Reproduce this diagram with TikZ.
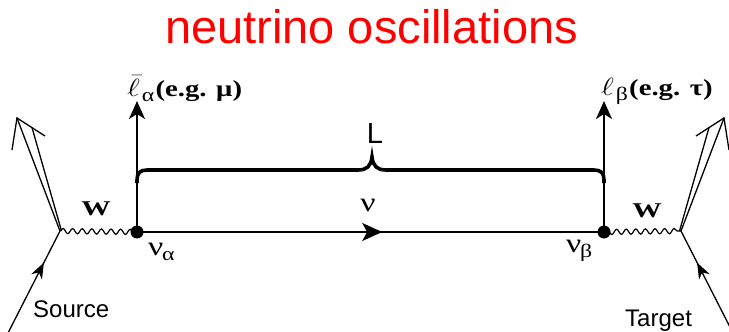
\documentclass[tikz,border=0pt]{standalone}
\usepackage{fontspec}
\usepackage{graphicx}
\setmainfont{Liberation Serif}
\setsansfont{Liberation Sans}
\usetikzlibrary{arrows.meta,decorations.pathmorphing,decorations.markings}
\newcommand{\fgstretch}[1]{\scalebox{1.25}[1]{#1}}
\newcommand{\subbig}[1]{\raisebox{-5pt}{\fontsize{19}{19}\selectfont #1}}
\begin{document}
\begin{tikzpicture}[x=1pt,y=-1pt,
  title/.style={font=\sffamily\fontsize{47}{47}\selectfont, text=red, inner sep=0pt},
  sanslab/.style={font=\sffamily\fontsize{24}{24}\selectfont, inner sep=0pt},
  serlab/.style={font=\fontsize{23}{23}\selectfont, inner sep=0pt},
  nulabel/.style={font=\fontsize{27}{27}\selectfont, inner sep=0pt},
  dot/.style={circle, fill=black, inner sep=0pt, minimum size=13pt},
  nuline/.style={line width=2pt},
  legline/.style={line width=1.3pt},
  boson/.style={line width=1.2pt, decorate, decoration={snake, amplitude=2.6pt, segment length=9.6pt}},
  bracestyle/.style={line width=3.6pt},
  upleg/.style={line width=2pt, -{Stealth[length=18pt, width=16pt, inset=5pt]}},
  midarrow/.style n args={3}{decoration={markings, mark=at position #1 with {\arrow{Stealth[length=#2, width=#3, inset=5pt]}}}, postaction=decorate}
]
\useasboundingbox (0,0) rectangle (729,332);
\clip (0,0) rectangle (729,332);

% title
\node[title, anchor=base] (title) at (371.5,43) {neutrino oscillations};

% vertices
\node[dot] (dA) at (137,232) {};
\node[dot] (dB) at (604,232) {};
\coordinate (vL) at (60,231);
\coordinate (vR) at (681,231);

% neutrino propagation
\draw[nuline, midarrow={0.525}{20pt}{18pt}] (dA.center) -- (dB.center);

% charged leptons up
\coordinate (lA) at (137,101);
\coordinate (lB) at (604,101);
\draw[upleg] (dA.center) -- (lA);
\draw[upleg] (dB.center) -- (lB);

% W bosons
\draw[boson] (vL) -- (dA.center);
\draw[boson] (dB.center) -- (vR);

% source side
\coordinate (srcIn) at (8,333);
\coordinate (oA) at (17,118);
\coordinate (oB) at (32,127.6);
\coordinate (wA) at (12,150);
\coordinate (wB) at (45,136);
\draw[legline, midarrow={0.69}{16pt}{12pt}] (srcIn) -- (vL);
\draw[legline] (vL) -- (oA);
\draw[legline] ([xshift=1.5pt]vL) -- (oB);
\draw[legline] (wA) -- (oA) -- (wB);

% target side (mirror)
\coordinate (tgtIn) at (733,333);
\coordinate (pA) at (724,118);
\coordinate (pB) at (709,127.6);
\coordinate (xA) at (729,150);
\coordinate (xB) at (696,136);
\draw[legline, midarrow={0.69}{16pt}{12pt}] (tgtIn) -- (vR);
\draw[legline] (vR) -- (pA);
\draw[legline] ([xshift=-1.5pt]vR) -- (pB);
\draw[legline] (xA) -- (pA) -- (xB);

% brace L
\draw[bracestyle] (137,183) -- (137,180) .. controls (137,173) and (140,170) .. (147,170)
  -- (358,170) .. controls (367,170) and (371,166) .. (372,157)
  .. controls (373,166) and (377,170) .. (386,170)
  -- (594,170) .. controls (601,170) and (604,173) .. (604,180) -- (604,183);
\node[sanslab, font=\sffamily\fontsize{29}{29}\selectfont, anchor=base] (Llab) at (375,143) {L};

% labels
\node[serlab, font=\fontsize{21}{21}\selectfont] (wLlab) at (96,208.5) {\scalebox{1.4}[1]{\bfseries W}};
\node[serlab, font=\fontsize{21}{21}\selectfont] (wRlab) at (647,211) {\scalebox{1.4}[1]{\bfseries W}};
\node[nulabel] (nulab) at (368,205) {\fgstretch{ν}};
\node[nulabel, anchor=base west] (nuA) at (148,255) {\fgstretch{ν\kern-1pt\subbig{α}}};
\node[nulabel, anchor=base west] (nuB) at (566,252) {\fgstretch{ν\kern-1pt\subbig{β}}};
\node[serlab, anchor=base west] (lepA) at (127,96) {\fgstretch{$\bar{\ell}$\kern1.5pt\subbig{α}\kern1pt\bfseries(e.g. μ)}};
\node[serlab, anchor=base west] (lepB) at (601,95) {\fgstretch{$\ell$\kern1.5pt\subbig{β}\kern1pt\bfseries(e.g. τ)}};
\node[sanslab, anchor=base west] (srclab) at (33,317) {Source};
\node[sanslab, anchor=base west] (tgtlab) at (625,326) {Target};
\end{tikzpicture}
\end{document}
